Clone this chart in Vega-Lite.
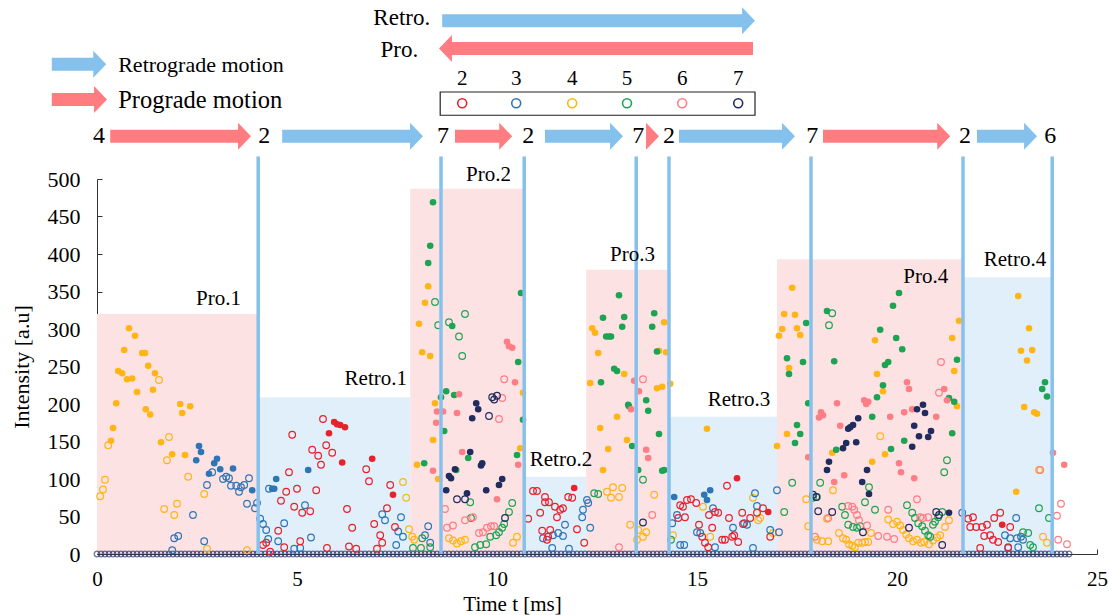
{
"$schema": "https://vega.github.io/schema/vega-lite/v6.json",
"width": 1000, "height": 375,
"autosize": {"type": "none"},
"padding": {"left": 97, "top": 179, "right": 12, "bottom": 61},
"background": "white",
"config": {"view": {"stroke": null}, "font": "Liberation Serif"},
"datasets": {
"regions": [
{"t":0,"t2":4.03,"v":320,"v2":0,"k":"p"},
{"t":4.03,"t2":7.83,"v":209,"v2":0,"k":"r"},
{"t":7.83,"t2":10.7,"v":487,"v2":0,"k":"p"},
{"t":10.7,"t2":12.23,"v":103,"v2":0,"k":"r"},
{"t":12.23,"t2":14.3,"v":379,"v2":0,"k":"p"},
{"t":14.3,"t2":17.0,"v":183,"v2":0,"k":"r"},
{"t":17.0,"t2":21.65,"v":393,"v2":0,"k":"p"},
{"t":21.65,"t2":23.88,"v":369,"v2":0,"k":"r"}],
"vlines": [
{"t":4.03,"v":0,"v2":530},{"t":8.6,"v":0,"v2":530},{"t":10.68,"v":0,"v2":530},{"t":13.48,"v":0,"v2":530},
{"t":14.3,"v":0,"v2":530},{"t":17.85,"v":0,"v2":530},{"t":21.65,"v":0,"v2":530},{"t":23.88,"v":0,"v2":530}],
"shafts": [
{"t":0.33,"t2":3.58,"v":557,"c":"p"},{"t":4.63,"t2":7.88,"v":557,"c":"b"},{"t":8.95,"t2":10.11,"v":557,"c":"p"},
{"t":11.2,"t2":12.88,"v":557,"c":"b"},{"t":14.55,"t2":17.18,"v":557,"c":"b"},{"t":18.15,"t2":21.06,"v":557,"c":"p"},
{"t":22.0,"t2":23.23,"v":557,"c":"b"},
{"t":-1.13,"t2":-0.04,"v":653,"c":"b"},{"t":-1.13,"t2":-0.02,"v":606,"c":"p"},
{"t":8.63,"t2":16.18,"v":711,"c":"b"},{"t":8.82,"t2":16.4,"v":674,"c":"p"}],
"heads": [
{"t":3.85,"v":557,"c":"p","d":"r"},{"t":8.15,"v":557,"c":"b","d":"r"},{"t":10.38,"v":557,"c":"p","d":"r"},
{"t":13.15,"v":557,"c":"b","d":"r"},{"t":14.05,"v":557,"c":"p","d":"r"},{"t":17.45,"v":557,"c":"b","d":"r"},
{"t":21.33,"v":557,"c":"p","d":"r"},{"t":23.5,"v":557,"c":"b","d":"r"},
{"t":0.23,"v":653,"c":"b","d":"r"},{"t":0.25,"v":606,"c":"p","d":"r"},
{"t":16.45,"v":711,"c":"b","d":"r"},{"t":8.55,"v":674,"c":"p","d":"l"}],
"box": [{"t":8.58,"t2":16.45,"v":616,"v2":585}],
"leg": [{"t":9.13,"v":601,"s":2},{"t":10.48,"v":601,"s":3},{"t":11.88,"v":601,"s":4},{"t":13.25,"v":601,"s":5},{"t":14.63,"v":601,"s":6},{"t":16.03,"v":601,"s":7}],
"tc": [
{"t":0.05,"v":557,"txt":"4","sz":24},{"t":4.18,"v":557,"txt":"2","sz":24},{"t":8.65,"v":557,"txt":"7","sz":24},
{"t":10.78,"v":557,"txt":"2","sz":24},{"t":13.53,"v":557,"txt":"7","sz":24},{"t":14.3,"v":557,"txt":"2","sz":24},
{"t":17.88,"v":557,"txt":"7","sz":24},{"t":21.7,"v":557,"txt":"2","sz":24},{"t":23.83,"v":557,"txt":"6","sz":24},
{"t":9.13,"v":633,"txt":"2","sz":21},{"t":10.48,"v":633,"txt":"3","sz":21},{"t":11.88,"v":633,"txt":"4","sz":21},
{"t":13.25,"v":633,"txt":"5","sz":21},{"t":14.63,"v":633,"txt":"6","sz":21},{"t":16.03,"v":633,"txt":"7","sz":21}],
"tr": [
{"t":3.6,"v":340,"txt":"Pro.1","sz":21},{"t":7.75,"v":233,"txt":"Retro.1","sz":21},{"t":10.35,"v":505,"txt":"Pro.2","sz":21},
{"t":12.38,"v":125,"txt":"Retro.2","sz":21},{"t":13.95,"v":399,"txt":"Pro.3","sz":21},{"t":16.83,"v":205,"txt":"Retro.3","sz":21},
{"t":21.28,"v":369,"txt":"Pro.4","sz":21},{"t":23.73,"v":392,"txt":"Retro.4","sz":21},
{"t":8.33,"v":715,"txt":"Retro.","sz":23},{"t":8.03,"v":672,"txt":"Pro.","sz":23}],
"tl": [
{"t":0.53,"v":652,"txt":"Retrograde motion","sz":22},{"t":0.53,"v":604,"txt":"Prograde motion","sz":24.5}],
"base": [
{"t":0,"v":0},{"t":0.1,"v":0},{"t":0.2,"v":0},{"t":0.3,"v":0},{"t":0.4,"v":0},{"t":0.5,"v":0},{"t":0.6,"v":0},{"t":0.7,"v":0},{"t":0.8,"v":0},{"t":0.9,"v":0},
{"t":1,"v":0},{"t":1.1,"v":0},{"t":1.2,"v":0},{"t":1.3,"v":0},{"t":1.4,"v":0},{"t":1.5,"v":0},{"t":1.6,"v":0},{"t":1.7,"v":0},{"t":1.8,"v":0},{"t":1.9,"v":0},
{"t":2,"v":0},{"t":2.1,"v":0},{"t":2.2,"v":0},{"t":2.3,"v":0},{"t":2.4,"v":0},{"t":2.5,"v":0},{"t":2.6,"v":0},{"t":2.7,"v":0},{"t":2.8,"v":0},{"t":2.9,"v":0},
{"t":3,"v":0},{"t":3.1,"v":0},{"t":3.2,"v":0},{"t":3.3,"v":0},{"t":3.4,"v":0},{"t":3.5,"v":0},{"t":3.6,"v":0},{"t":3.7,"v":0},{"t":3.8,"v":0},{"t":3.9,"v":0},
{"t":4,"v":0},{"t":4.1,"v":0},{"t":4.2,"v":0},{"t":4.3,"v":0},{"t":4.4,"v":0},{"t":4.5,"v":0},{"t":4.6,"v":0},{"t":4.7,"v":0},{"t":4.8,"v":0},{"t":4.9,"v":0},
{"t":5,"v":0},{"t":5.1,"v":0},{"t":5.2,"v":0},{"t":5.3,"v":0},{"t":5.4,"v":0},{"t":5.5,"v":0},{"t":5.6,"v":0},{"t":5.7,"v":0},{"t":5.8,"v":0},{"t":5.9,"v":0},
{"t":6,"v":0},{"t":6.1,"v":0},{"t":6.2,"v":0},{"t":6.3,"v":0},{"t":6.4,"v":0},{"t":6.5,"v":0},{"t":6.6,"v":0},{"t":6.7,"v":0},{"t":6.8,"v":0},{"t":6.9,"v":0},
{"t":7,"v":0},{"t":7.1,"v":0},{"t":7.2,"v":0},{"t":7.3,"v":0},{"t":7.4,"v":0},{"t":7.5,"v":0},{"t":7.6,"v":0},{"t":7.7,"v":0},{"t":7.8,"v":0},{"t":7.9,"v":0},
{"t":8,"v":0},{"t":8.1,"v":0},{"t":8.2,"v":0},{"t":8.3,"v":0},{"t":8.4,"v":0},{"t":8.5,"v":0},{"t":8.6,"v":0},{"t":8.7,"v":0},{"t":8.8,"v":0},{"t":8.9,"v":0},
{"t":9,"v":0},{"t":9.1,"v":0},{"t":9.2,"v":0},{"t":9.3,"v":0},{"t":9.4,"v":0},{"t":9.5,"v":0},{"t":9.6,"v":0},{"t":9.7,"v":0},{"t":9.8,"v":0},{"t":9.9,"v":0},
{"t":10,"v":0},{"t":10.1,"v":0},{"t":10.2,"v":0},{"t":10.3,"v":0},{"t":10.4,"v":0},{"t":10.5,"v":0},{"t":10.6,"v":0},{"t":10.7,"v":0},{"t":10.8,"v":0},{"t":10.9,"v":0},
{"t":11,"v":0},{"t":11.1,"v":0},{"t":11.2,"v":0},{"t":11.3,"v":0},{"t":11.4,"v":0},{"t":11.5,"v":0},{"t":11.6,"v":0},{"t":11.7,"v":0},{"t":11.8,"v":0},{"t":11.9,"v":0},
{"t":12,"v":0},{"t":12.1,"v":0},{"t":12.2,"v":0},{"t":12.3,"v":0},{"t":12.4,"v":0},{"t":12.5,"v":0},{"t":12.6,"v":0},{"t":12.7,"v":0},{"t":12.8,"v":0},{"t":12.9,"v":0},
{"t":13,"v":0},{"t":13.1,"v":0},{"t":13.2,"v":0},{"t":13.3,"v":0},{"t":13.4,"v":0},{"t":13.5,"v":0},{"t":13.6,"v":0},{"t":13.7,"v":0},{"t":13.8,"v":0},{"t":13.9,"v":0},
{"t":14,"v":0},{"t":14.1,"v":0},{"t":14.2,"v":0},{"t":14.3,"v":0},{"t":14.4,"v":0},{"t":14.5,"v":0},{"t":14.6,"v":0},{"t":14.7,"v":0},{"t":14.8,"v":0},{"t":14.9,"v":0},
{"t":15,"v":0},{"t":15.1,"v":0},{"t":15.2,"v":0},{"t":15.3,"v":0},{"t":15.4,"v":0},{"t":15.5,"v":0},{"t":15.6,"v":0},{"t":15.7,"v":0},{"t":15.8,"v":0},{"t":15.9,"v":0},
{"t":16,"v":0},{"t":16.1,"v":0},{"t":16.2,"v":0},{"t":16.3,"v":0},{"t":16.4,"v":0},{"t":16.5,"v":0},{"t":16.6,"v":0},{"t":16.7,"v":0},{"t":16.8,"v":0},{"t":16.9,"v":0},
{"t":17,"v":0},{"t":17.1,"v":0},{"t":17.2,"v":0},{"t":17.3,"v":0},{"t":17.4,"v":0},{"t":17.5,"v":0},{"t":17.6,"v":0},{"t":17.7,"v":0},{"t":17.8,"v":0},{"t":17.9,"v":0},
{"t":18,"v":0},{"t":18.1,"v":0},{"t":18.2,"v":0},{"t":18.3,"v":0},{"t":18.4,"v":0},{"t":18.5,"v":0},{"t":18.6,"v":0},{"t":18.7,"v":0},{"t":18.8,"v":0},{"t":18.9,"v":0},
{"t":19,"v":0},{"t":19.1,"v":0},{"t":19.2,"v":0},{"t":19.3,"v":0},{"t":19.4,"v":0},{"t":19.5,"v":0},{"t":19.6,"v":0},{"t":19.7,"v":0},{"t":19.8,"v":0},{"t":19.9,"v":0},
{"t":20,"v":0},{"t":20.1,"v":0},{"t":20.2,"v":0},{"t":20.3,"v":0},{"t":20.4,"v":0},{"t":20.5,"v":0},{"t":20.6,"v":0},{"t":20.7,"v":0},{"t":20.8,"v":0},{"t":20.9,"v":0},
{"t":21,"v":0},{"t":21.1,"v":0},{"t":21.2,"v":0},{"t":21.3,"v":0},{"t":21.4,"v":0},{"t":21.5,"v":0},{"t":21.6,"v":0},{"t":21.7,"v":0},{"t":21.8,"v":0},{"t":21.9,"v":0},
{"t":22,"v":0},{"t":22.1,"v":0},{"t":22.2,"v":0},{"t":22.3,"v":0},{"t":22.4,"v":0},{"t":22.5,"v":0},{"t":22.6,"v":0},{"t":22.7,"v":0},{"t":22.8,"v":0},{"t":22.9,"v":0},
{"t":23,"v":0},{"t":23.1,"v":0},{"t":23.2,"v":0},{"t":23.3,"v":0},{"t":23.4,"v":0},{"t":23.5,"v":0},{"t":23.6,"v":0},{"t":23.7,"v":0},{"t":23.8,"v":0},{"t":23.9,"v":0},
{"t":24,"v":0},{"t":24.1,"v":0},{"t":24.2,"v":0},{"t":24.3,"v":0}],
"pts": [
{"t":0.8,"v":301,"s":4,"f":1},{"t":0.95,"v":291,"s":4,"f":1},{"t":0.68,"v":272,"s":4,"f":1},{"t":1.13,"v":268,"s":4,"f":1},{"t":1.2,"v":268,"s":4,"f":1},
{"t":0.53,"v":244,"s":4,"f":1},{"t":0.63,"v":241,"s":4,"f":1},{"t":0.75,"v":233,"s":4,"f":1},{"t":0.88,"v":234,"s":4,"f":1},{"t":1.28,"v":251,"s":4,"f":1},
{"t":1.45,"v":241,"s":4,"f":1},{"t":1.0,"v":216,"s":4,"f":1},{"t":1.4,"v":219,"s":4,"f":1},{"t":0.48,"v":201,"s":4,"f":1},{"t":1.22,"v":193,"s":4,"f":1},
{"t":1.33,"v":186,"s":4,"f":1},{"t":0.4,"v":168,"s":4,"f":1},{"t":0.35,"v":151,"s":4,"f":1},{"t":2.08,"v":200,"s":4,"f":1},{"t":2.13,"v":188,"s":4,"f":1},
{"t":2.33,"v":197,"s":4,"f":1},{"t":1.6,"v":149,"s":4,"f":1},{"t":1.88,"v":133,"s":4,"f":1},{"t":2.2,"v":132,"s":4,"f":1},
{"t":8.45,"v":201,"s":4,"f":1},{"t":8.4,"v":152,"s":4,"f":1},{"t":8.0,"v":119,"s":4,"f":1},{"t":8.53,"v":100,"s":4,"f":1},{"t":10.58,"v":141,"s":4,"f":1},
{"t":8.28,"v":357,"s":4,"f":1},{"t":8.2,"v":335,"s":4,"f":1},{"t":8.05,"v":307,"s":4,"f":1},{"t":8.13,"v":269,"s":4,"f":1},{"t":8.33,"v":264,"s":4,"f":1},{"t":10.65,"v":215,"s":4,"f":1},
{"t":12.38,"v":301,"s":4,"f":1},{"t":12.45,"v":295,"s":4,"f":1},{"t":12.53,"v":268,"s":4,"f":1},{"t":12.33,"v":228,"s":4,"f":1},{"t":13.18,"v":240,"s":4,"f":1},
{"t":14.18,"v":309,"s":4,"f":1},{"t":14.23,"v":269,"s":4,"f":1},{"t":14.05,"v":271,"s":4,"f":1},{"t":14.0,"v":221,"s":4,"f":1},{"t":14.13,"v":223,"s":4,"f":1},
{"t":14.33,"v":227,"s":4,"f":1},{"t":13.0,"v":183,"s":4,"f":1},{"t":12.58,"v":168,"s":4,"f":1},{"t":12.78,"v":140,"s":4,"f":1},{"t":12.65,"v":112,"s":4,"f":1},{"t":13.25,"v":152,"s":4,"f":1},
{"t":15.25,"v":167,"s":4,"f":1},
{"t":17.38,"v":355,"s":4,"f":1},{"t":17.18,"v":320,"s":4,"f":1},{"t":17.45,"v":319,"s":4,"f":1},{"t":17.13,"v":300,"s":4,"f":1},{"t":17.05,"v":291,"s":4,"f":1},
{"t":17.5,"v":301,"s":4,"f":1},{"t":17.58,"v":292,"s":4,"f":1},{"t":17.3,"v":248,"s":4,"f":1},{"t":17.0,"v":144,"s":4,"f":1},{"t":17.25,"v":160,"s":4,"f":1},
{"t":21.55,"v":311,"s":4,"f":1},{"t":21.38,"v":288,"s":4,"f":1},{"t":21.43,"v":244,"s":4,"f":1},{"t":19.45,"v":285,"s":4,"f":1},{"t":19.5,"v":240,"s":4,"f":1},
{"t":19.65,"v":217,"s":4,"f":1},{"t":21.5,"v":197,"s":4,"f":1},{"t":19.7,"v":133,"s":4,"f":1},{"t":19.38,"v":123,"s":4,"f":1},{"t":18.38,"v":135,"s":4,"f":1},
{"t":23.03,"v":344,"s":4,"f":1},{"t":23.3,"v":301,"s":4,"f":1},{"t":23.1,"v":271,"s":4,"f":1},{"t":23.38,"v":272,"s":4,"f":1},{"t":23.25,"v":258,"s":4,"f":1},
{"t":23.18,"v":196,"s":4,"f":1},{"t":23.43,"v":189,"s":4,"f":1},{"t":23.5,"v":187,"s":4,"f":1},{"t":22.98,"v":83,"s":4,"f":1},
{"t":1.55,"v":232,"s":4,"f":0},{"t":0.28,"v":145,"s":4,"f":0},{"t":1.8,"v":156,"s":4,"f":0},{"t":1.75,"v":125,"s":4,"f":0},{"t":0.2,"v":99,"s":4,"f":0},
{"t":0.15,"v":86,"s":4,"f":0},{"t":0.08,"v":77,"s":4,"f":0},{"t":2.28,"v":103,"s":4,"f":0},{"t":2.68,"v":80,"s":4,"f":0},{"t":1.68,"v":60,"s":4,"f":0},
{"t":2.0,"v":67,"s":4,"f":0},{"t":1.93,"v":52,"s":4,"f":0},{"t":2.75,"v":7,"s":4,"f":0},{"t":3.75,"v":5,"s":4,"f":0},
{"t":7.65,"v":96,"s":4,"f":0},{"t":7.73,"v":75,"s":4,"f":0},{"t":7.8,"v":33,"s":4,"f":0},{"t":7.88,"v":23,"s":4,"f":0},{"t":7.93,"v":19,"s":4,"f":0},
{"t":8.8,"v":21,"s":4,"f":0},{"t":8.9,"v":18,"s":4,"f":0},{"t":9.0,"v":14,"s":4,"f":0},{"t":9.1,"v":17,"s":4,"f":0},{"t":9.2,"v":19,"s":4,"f":0},
{"t":10.5,"v":23,"s":4,"f":0},{"t":10.4,"v":15,"s":4,"f":0},
{"t":12.75,"v":83,"s":4,"f":0},{"t":12.9,"v":89,"s":4,"f":0},{"t":13.13,"v":88,"s":4,"f":0},{"t":12.85,"v":75,"s":4,"f":0},{"t":13.05,"v":76,"s":4,"f":0},
{"t":13.93,"v":79,"s":4,"f":0},{"t":13.33,"v":39,"s":4,"f":0},{"t":13.53,"v":32,"s":4,"f":0},{"t":13.73,"v":29,"s":4,"f":0},{"t":13.65,"v":23,"s":4,"f":0},
{"t":13.5,"v":19,"s":4,"f":0},{"t":14.4,"v":25,"s":4,"f":0},
{"t":15.15,"v":63,"s":4,"f":0},{"t":15.33,"v":23,"s":4,"f":0},{"t":16.4,"v":75,"s":4,"f":0},{"t":16.53,"v":45,"s":4,"f":0},{"t":16.58,"v":48,"s":4,"f":0},
{"t":16.9,"v":28,"s":4,"f":0},{"t":17.73,"v":73,"s":4,"f":0},
{"t":19.58,"v":157,"s":4,"f":0},{"t":18.4,"v":85,"s":4,"f":0},{"t":18.25,"v":47,"s":4,"f":0},
{"t":18.55,"v":28,"s":4,"f":0},{"t":18.65,"v":21,"s":4,"f":0},{"t":18.73,"v":19,"s":4,"f":0},{"t":18.8,"v":13,"s":4,"f":0},{"t":18.88,"v":11,"s":4,"f":0},
{"t":18.95,"v":9,"s":4,"f":0},{"t":19.03,"v":15,"s":4,"f":0},{"t":19.13,"v":15,"s":4,"f":0},{"t":19.2,"v":16,"s":4,"f":0},{"t":19.28,"v":16,"s":4,"f":0},{"t":19.35,"v":28,"s":4,"f":0},
{"t":19.78,"v":46,"s":4,"f":0},{"t":19.9,"v":40,"s":4,"f":0},{"t":20.0,"v":43,"s":4,"f":0},{"t":20.08,"v":38,"s":4,"f":0},{"t":20.15,"v":32,"s":4,"f":0},
{"t":20.23,"v":26,"s":4,"f":0},{"t":20.3,"v":21,"s":4,"f":0},{"t":20.4,"v":17,"s":4,"f":0},{"t":20.5,"v":19,"s":4,"f":0},{"t":20.6,"v":15,"s":4,"f":0},
{"t":20.68,"v":16,"s":4,"f":0},{"t":20.8,"v":13,"s":4,"f":0},{"t":20.9,"v":18,"s":4,"f":0},{"t":21.0,"v":22,"s":4,"f":0},{"t":21.08,"v":25,"s":4,"f":0},
{"t":21.2,"v":36,"s":4,"f":0},{"t":21.3,"v":45,"s":4,"f":0},{"t":17.78,"v":37,"s":4,"f":0},{"t":18.0,"v":19,"s":4,"f":0},{"t":18.13,"v":17,"s":4,"f":0},{"t":18.28,"v":17,"s":4,"f":0},
{"t":23.55,"v":112,"s":4,"f":0},{"t":23.65,"v":23,"s":4,"f":0},{"t":23.75,"v":15,"s":4,"f":0},
{"t":2.55,"v":144,"s":3,"f":1},{"t":2.6,"v":136,"s":3,"f":1},{"t":2.48,"v":125,"s":3,"f":1},{"t":2.93,"v":121,"s":3,"f":1},{"t":3.0,"v":127,"s":3,"f":1},
{"t":3.08,"v":113,"s":3,"f":1},{"t":3.4,"v":114,"s":3,"f":1},{"t":3.88,"v":85,"s":3,"f":1},{"t":2.8,"v":107,"s":3,"f":1},{"t":4.48,"v":100,"s":3,"f":1},
{"t":4.38,"v":87,"s":3,"f":1},{"t":4.43,"v":87,"s":3,"f":1},{"t":5.28,"v":112,"s":3,"f":1},{"t":14.43,"v":76,"s":3,"f":1},{"t":15.33,"v":85,"s":3,"f":1},
{"t":15.18,"v":79,"s":3,"f":1},{"t":15.25,"v":72,"s":3,"f":1},
{"t":2.88,"v":109,"s":3,"f":0},{"t":3.15,"v":100,"s":3,"f":0},{"t":3.23,"v":103,"s":3,"f":0},{"t":3.3,"v":101,"s":3,"f":0},{"t":3.35,"v":91,"s":3,"f":0},
{"t":3.48,"v":91,"s":3,"f":0},{"t":3.55,"v":83,"s":3,"f":0},{"t":3.6,"v":89,"s":3,"f":0},{"t":3.68,"v":92,"s":3,"f":0},{"t":3.8,"v":101,"s":3,"f":0},
{"t":2.75,"v":92,"s":3,"f":0},{"t":3.75,"v":67,"s":3,"f":0},{"t":3.95,"v":61,"s":3,"f":0},{"t":4.0,"v":68,"s":3,"f":0},{"t":2.4,"v":52,"s":3,"f":0},
{"t":1.93,"v":21,"s":3,"f":0},{"t":2.03,"v":24,"s":3,"f":0},{"t":1.88,"v":5,"s":3,"f":0},{"t":2.68,"v":17,"s":3,"f":0},
{"t":4.3,"v":87,"s":3,"f":0},{"t":4.08,"v":47,"s":3,"f":0},{"t":4.15,"v":40,"s":3,"f":0},{"t":4.23,"v":32,"s":3,"f":0},{"t":4.28,"v":20,"s":3,"f":0},
{"t":4.53,"v":17,"s":3,"f":0},{"t":4.68,"v":41,"s":3,"f":0},{"t":5.2,"v":65,"s":3,"f":0},{"t":5.35,"v":22,"s":3,"f":0},{"t":4.93,"v":7,"s":3,"f":0},{"t":5.08,"v":8,"s":3,"f":0},
{"t":7.13,"v":53,"s":3,"f":0},{"t":7.2,"v":45,"s":3,"f":0},{"t":7.6,"v":49,"s":3,"f":0},{"t":7.53,"v":30,"s":3,"f":0},{"t":7.65,"v":23,"s":3,"f":0},
{"t":7.48,"v":12,"s":3,"f":0},{"t":8.28,"v":37,"s":3,"f":0},{"t":8.2,"v":25,"s":3,"f":0},{"t":8.33,"v":15,"s":3,"f":0},
{"t":12.15,"v":59,"s":3,"f":0},{"t":12.13,"v":49,"s":3,"f":0},{"t":12.25,"v":72,"s":3,"f":0},{"t":12.28,"v":68,"s":3,"f":0},{"t":12.33,"v":35,"s":3,"f":0},
{"t":11.7,"v":39,"s":3,"f":0},{"t":11.53,"v":28,"s":3,"f":0},{"t":11.65,"v":24,"s":3,"f":0},{"t":11.4,"v":25,"s":3,"f":0},{"t":11.15,"v":21,"s":3,"f":0},
{"t":11.8,"v":7,"s":3,"f":0},{"t":11.38,"v":8,"s":3,"f":0},
{"t":14.38,"v":41,"s":3,"f":0},{"t":14.5,"v":52,"s":3,"f":0},{"t":14.58,"v":12,"s":3,"f":0},{"t":14.68,"v":12,"s":3,"f":0},{"t":15.0,"v":29,"s":3,"f":0},
{"t":15.08,"v":28,"s":3,"f":0},{"t":15.4,"v":61,"s":3,"f":0},{"t":15.45,"v":9,"s":3,"f":0},{"t":15.9,"v":35,"s":3,"f":0},{"t":16.25,"v":39,"s":3,"f":0},
{"t":16.18,"v":41,"s":3,"f":0},{"t":16.4,"v":8,"s":3,"f":0},{"t":16.45,"v":81,"s":3,"f":0},{"t":16.5,"v":64,"s":3,"f":0},{"t":16.83,"v":32,"s":3,"f":0},
{"t":17.0,"v":85,"s":3,"f":0},{"t":17.05,"v":29,"s":3,"f":0},
{"t":22.98,"v":48,"s":3,"f":0},{"t":22.7,"v":25,"s":3,"f":0},{"t":22.83,"v":21,"s":3,"f":0},{"t":23.0,"v":21,"s":3,"f":0},{"t":23.1,"v":23,"s":3,"f":0},
{"t":23.15,"v":19,"s":3,"f":0},{"t":22.78,"v":8,"s":3,"f":0},{"t":23.03,"v":9,"s":3,"f":0},{"t":21.63,"v":55,"s":3,"f":0},
{"t":5.93,"v":176,"s":2,"f":1},{"t":6.0,"v":173,"s":2,"f":1},{"t":6.08,"v":172,"s":2,"f":1},{"t":6.2,"v":169,"s":2,"f":1},{"t":5.8,"v":161,"s":2,"f":1},
{"t":6.13,"v":122,"s":2,"f":1},{"t":6.88,"v":127,"s":2,"f":1},{"t":7.4,"v":79,"s":2,"f":1},{"t":11.93,"v":88,"s":2,"f":1},{"t":16.0,"v":101,"s":2,"f":1},
{"t":16.78,"v":56,"s":2,"f":1},{"t":22.63,"v":39,"s":2,"f":1},
{"t":4.88,"v":159,"s":2,"f":0},{"t":4.8,"v":109,"s":2,"f":0},{"t":4.73,"v":83,"s":2,"f":0},{"t":4.6,"v":71,"s":2,"f":0},{"t":5.0,"v":87,"s":2,"f":0},
{"t":4.93,"v":63,"s":2,"f":0},{"t":4.53,"v":31,"s":2,"f":0},{"t":4.68,"v":9,"s":2,"f":0},{"t":4.23,"v":15,"s":2,"f":0},{"t":4.15,"v":12,"s":2,"f":0},
{"t":5.65,"v":180,"s":2,"f":0},{"t":5.38,"v":139,"s":2,"f":0},{"t":5.53,"v":131,"s":2,"f":0},{"t":5.73,"v":145,"s":2,"f":0},{"t":5.88,"v":135,"s":2,"f":0},
{"t":5.6,"v":119,"s":2,"f":0},{"t":5.13,"v":55,"s":2,"f":0},{"t":5.33,"v":57,"s":2,"f":0},{"t":5.48,"v":85,"s":2,"f":0},{"t":5.08,"v":17,"s":2,"f":0},
{"t":6.25,"v":60,"s":2,"f":0},{"t":6.38,"v":35,"s":2,"f":0},{"t":6.73,"v":113,"s":2,"f":0},{"t":6.8,"v":97,"s":2,"f":0},{"t":6.93,"v":40,"s":2,"f":0},
{"t":7.08,"v":25,"s":2,"f":0},{"t":7.13,"v":15,"s":2,"f":0},{"t":7.33,"v":92,"s":2,"f":0},{"t":7.25,"v":61,"s":2,"f":0},{"t":7.45,"v":36,"s":2,"f":0},
{"t":6.3,"v":10,"s":2,"f":0},{"t":6.48,"v":7,"s":2,"f":0},{"t":7.0,"v":7,"s":2,"f":0},{"t":5.75,"v":8,"s":2,"f":0},{"t":4.33,"v":3,"s":2,"f":0},
{"t":10.9,"v":84,"s":2,"f":0},{"t":11.0,"v":84,"s":2,"f":0},{"t":11.2,"v":69,"s":2,"f":0},{"t":11.08,"v":55,"s":2,"f":0},{"t":10.78,"v":47,"s":2,"f":0},
{"t":11.13,"v":31,"s":2,"f":0},{"t":11.25,"v":19,"s":2,"f":0},{"t":11.2,"v":76,"s":2,"f":0},{"t":11.3,"v":69,"s":2,"f":0},{"t":11.45,"v":63,"s":2,"f":0},
{"t":11.58,"v":59,"s":2,"f":0},{"t":11.65,"v":61,"s":2,"f":0},{"t":11.5,"v":49,"s":2,"f":0},{"t":11.33,"v":32,"s":2,"f":0},{"t":12.0,"v":33,"s":2,"f":0},
{"t":11.28,"v":23,"s":2,"f":0},{"t":11.78,"v":76,"s":2,"f":0},{"t":11.88,"v":75,"s":2,"f":0},{"t":12.18,"v":15,"s":2,"f":0},
{"t":14.75,"v":72,"s":2,"f":0},{"t":14.85,"v":73,"s":2,"f":0},{"t":14.58,"v":65,"s":2,"f":0},{"t":14.65,"v":63,"s":2,"f":0},{"t":14.53,"v":48,"s":2,"f":0},
{"t":14.7,"v":49,"s":2,"f":0},{"t":14.98,"v":68,"s":2,"f":0},{"t":15.75,"v":91,"s":2,"f":0},{"t":15.45,"v":56,"s":2,"f":0},{"t":15.53,"v":55,"s":2,"f":0},
{"t":15.05,"v":39,"s":2,"f":0},{"t":15.38,"v":35,"s":2,"f":0},{"t":15.13,"v":23,"s":2,"f":0},{"t":15.2,"v":15,"s":2,"f":0},{"t":15.28,"v":9,"s":2,"f":0},
{"t":15.63,"v":19,"s":2,"f":0},{"t":15.7,"v":19,"s":2,"f":0},{"t":15.88,"v":23,"s":2,"f":0},{"t":15.93,"v":25,"s":2,"f":0},{"t":16.13,"v":55,"s":2,"f":0},
{"t":16.33,"v":48,"s":2,"f":0},{"t":16.15,"v":40,"s":2,"f":0},{"t":16.03,"v":16,"s":2,"f":0},{"t":16.5,"v":55,"s":2,"f":0},{"t":16.65,"v":61,"s":2,"f":0},
{"t":16.83,"v":23,"s":2,"f":0},{"t":15.8,"v":48,"s":2,"f":0},{"t":15.3,"v":52,"s":2,"f":0},
{"t":21.78,"v":47,"s":2,"f":0},{"t":21.9,"v":49,"s":2,"f":0},{"t":21.83,"v":36,"s":2,"f":0},{"t":21.98,"v":36,"s":2,"f":0},{"t":22.13,"v":36,"s":2,"f":0},
{"t":22.25,"v":39,"s":2,"f":0},{"t":22.43,"v":48,"s":2,"f":0},{"t":22.58,"v":55,"s":2,"f":0},{"t":22.83,"v":36,"s":2,"f":0},{"t":22.18,"v":24,"s":2,"f":0},
{"t":22.33,"v":25,"s":2,"f":0},{"t":22.4,"v":19,"s":2,"f":0},{"t":22.53,"v":16,"s":2,"f":0},{"t":22.08,"v":8,"s":2,"f":0},{"t":22.78,"v":9,"s":2,"f":0},
{"t":8.4,"v":469,"s":5,"f":1},{"t":8.33,"v":411,"s":5,"f":1},{"t":8.28,"v":388,"s":5,"f":1},{"t":8.88,"v":304,"s":5,"f":1},{"t":10.6,"v":348,"s":5,"f":1},
{"t":10.53,"v":256,"s":5,"f":1},{"t":8.73,"v":217,"s":5,"f":1},{"t":8.93,"v":212,"s":5,"f":1},{"t":8.6,"v":209,"s":5,"f":1},{"t":10.65,"v":179,"s":5,"f":1},
{"t":8.18,"v":121,"s":5,"f":1},{"t":8.68,"v":164,"s":5,"f":1},{"t":9.28,"v":128,"s":5,"f":1},{"t":8.98,"v":112,"s":5,"f":1},{"t":10.5,"v":132,"s":5,"f":1},
{"t":13.05,"v":345,"s":5,"f":1},{"t":12.65,"v":315,"s":5,"f":1},{"t":13.18,"v":316,"s":5,"f":1},{"t":13.13,"v":303,"s":5,"f":1},{"t":12.73,"v":290,"s":5,"f":1},
{"t":12.85,"v":290,"s":5,"f":1},{"t":12.8,"v":290,"s":5,"f":1},{"t":13.93,"v":321,"s":5,"f":1},{"t":13.88,"v":303,"s":5,"f":1},{"t":14.0,"v":270,"s":5,"f":1},
{"t":12.93,"v":247,"s":5,"f":1},{"t":13.0,"v":244,"s":5,"f":1},{"t":12.6,"v":229,"s":5,"f":1},{"t":13.28,"v":199,"s":5,"f":1},{"t":13.73,"v":205,"s":5,"f":1},
{"t":13.78,"v":191,"s":5,"f":1},{"t":14.05,"v":160,"s":5,"f":1},{"t":13.53,"v":112,"s":5,"f":1},{"t":14.13,"v":111,"s":5,"f":1},{"t":14.18,"v":112,"s":5,"f":1},
{"t":13.38,"v":144,"s":5,"f":1},{"t":13.3,"v":197,"s":5,"f":1},
{"t":17.73,"v":308,"s":5,"f":1},{"t":17.25,"v":261,"s":5,"f":1},{"t":17.65,"v":256,"s":5,"f":1},{"t":17.3,"v":240,"s":5,"f":1},{"t":18.25,"v":324,"s":5,"f":1},
{"t":18.43,"v":257,"s":5,"f":1},{"t":17.78,"v":201,"s":5,"f":1},{"t":17.5,"v":172,"s":5,"f":1},{"t":17.58,"v":160,"s":5,"f":1},{"t":17.45,"v":148,"s":5,"f":1},
{"t":20.05,"v":348,"s":5,"f":1},{"t":19.9,"v":331,"s":5,"f":1},{"t":19.58,"v":299,"s":5,"f":1},{"t":19.98,"v":288,"s":5,"f":1},{"t":20.13,"v":273,"s":5,"f":1},
{"t":19.78,"v":256,"s":5,"f":1},{"t":19.7,"v":252,"s":5,"f":1},{"t":21.5,"v":259,"s":5,"f":1},{"t":19.65,"v":225,"s":5,"f":1},{"t":19.5,"v":209,"s":5,"f":1},
{"t":21.3,"v":208,"s":5,"f":1},{"t":21.43,"v":203,"s":5,"f":1},{"t":19.38,"v":183,"s":5,"f":1},{"t":20.18,"v":151,"s":5,"f":1},{"t":19.85,"v":140,"s":5,"f":1},
{"t":21.38,"v":161,"s":5,"f":1},{"t":18.48,"v":139,"s":5,"f":1},
{"t":23.7,"v":229,"s":5,"f":1},{"t":23.63,"v":220,"s":5,"f":1},{"t":23.75,"v":210,"s":5,"f":1},
{"t":8.45,"v":336,"s":5,"f":0},{"t":9.2,"v":320,"s":5,"f":0},{"t":8.53,"v":305,"s":5,"f":0},{"t":8.8,"v":309,"s":5,"f":0},{"t":9.05,"v":290,"s":5,"f":0},
{"t":9.13,"v":264,"s":5,"f":0},{"t":9.35,"v":48,"s":5,"f":0},{"t":9.33,"v":69,"s":5,"f":0},{"t":9.45,"v":9,"s":5,"f":0},{"t":9.58,"v":12,"s":5,"f":0},
{"t":9.73,"v":13,"s":5,"f":0},{"t":9.83,"v":23,"s":5,"f":0},{"t":9.98,"v":25,"s":5,"f":0},{"t":10.05,"v":29,"s":5,"f":0},{"t":10.13,"v":35,"s":5,"f":0},
{"t":10.18,"v":40,"s":5,"f":0},{"t":10.3,"v":56,"s":5,"f":0},{"t":10.38,"v":68,"s":5,"f":0},{"t":8.13,"v":21,"s":5,"f":0},{"t":7.9,"v":8,"s":5,"f":0},
{"t":8.1,"v":8,"s":5,"f":0},{"t":8.33,"v":9,"s":5,"f":0},
{"t":12.43,"v":81,"s":5,"f":0},{"t":12.53,"v":80,"s":5,"f":0},{"t":13.65,"v":99,"s":5,"f":0},{"t":14.35,"v":19,"s":5,"f":0},
{"t":18.38,"v":321,"s":5,"f":0},{"t":18.3,"v":305,"s":5,"f":0},{"t":17.38,"v":95,"s":5,"f":0},{"t":17.18,"v":56,"s":5,"f":0},{"t":21.25,"v":125,"s":5,"f":0},
{"t":21.18,"v":109,"s":5,"f":0},{"t":19.3,"v":89,"s":5,"f":0},{"t":19.2,"v":69,"s":5,"f":0},{"t":18.63,"v":63,"s":5,"f":0},{"t":18.7,"v":52,"s":5,"f":0},
{"t":18.78,"v":39,"s":5,"f":0},{"t":18.9,"v":36,"s":5,"f":0},{"t":19.0,"v":35,"s":5,"f":0},{"t":19.08,"v":37,"s":5,"f":0},{"t":19.45,"v":59,"s":5,"f":0},
{"t":20.25,"v":65,"s":5,"f":0},{"t":20.38,"v":55,"s":5,"f":0},{"t":20.45,"v":48,"s":5,"f":0},{"t":20.53,"v":41,"s":5,"f":0},{"t":20.63,"v":37,"s":5,"f":0},
{"t":20.7,"v":31,"s":5,"f":0},{"t":20.78,"v":25,"s":5,"f":0},{"t":20.83,"v":23,"s":5,"f":0},{"t":20.9,"v":39,"s":5,"f":0},{"t":20.95,"v":43,"s":5,"f":0},
{"t":21.13,"v":56,"s":5,"f":0},{"t":21.03,"v":49,"s":5,"f":0},{"t":18.08,"v":95,"s":5,"f":0},{"t":18.0,"v":76,"s":5,"f":0},{"t":17.9,"v":75,"s":5,"f":0},
{"t":23.15,"v":29,"s":5,"f":0},{"t":23.28,"v":28,"s":5,"f":0},{"t":23.33,"v":12,"s":5,"f":0},{"t":23.4,"v":9,"s":5,"f":0},{"t":23.55,"v":61,"s":5,"f":0},{"t":23.8,"v":48,"s":5,"f":0},
{"t":8.5,"v":190,"s":6,"f":1},{"t":8.65,"v":190,"s":6,"f":1},{"t":9.0,"v":188,"s":6,"f":1},{"t":8.48,"v":175,"s":6,"f":1},{"t":9.13,"v":136,"s":6,"f":1},
{"t":8.4,"v":111,"s":6,"f":1},{"t":10.0,"v":73,"s":6,"f":1},{"t":10.53,"v":119,"s":6,"f":1},{"t":10.25,"v":283,"s":6,"f":1},{"t":10.38,"v":275,"s":6,"f":1},
{"t":10.3,"v":277,"s":6,"f":1},{"t":10.45,"v":229,"s":6,"f":1},{"t":9.05,"v":213,"s":6,"f":1},
{"t":13.55,"v":217,"s":6,"f":1},{"t":13.43,"v":231,"s":6,"f":1},{"t":13.35,"v":193,"s":6,"f":1},{"t":13.73,"v":139,"s":6,"f":1},{"t":13.78,"v":128,"s":6,"f":1},
{"t":18.1,"v":189,"s":6,"f":1},{"t":18.15,"v":185,"s":6,"f":1},{"t":18.05,"v":182,"s":6,"f":1},{"t":18.5,"v":201,"s":6,"f":1},{"t":17.78,"v":129,"s":6,"f":1},
{"t":20.25,"v":229,"s":6,"f":1},{"t":20.3,"v":220,"s":6,"f":1},{"t":21.18,"v":220,"s":6,"f":1},{"t":21.25,"v":205,"s":6,"f":1},{"t":19.18,"v":205,"s":6,"f":1},
{"t":19.28,"v":203,"s":6,"f":1},{"t":19.23,"v":200,"s":6,"f":1},{"t":19.83,"v":183,"s":6,"f":1},{"t":20.18,"v":189,"s":6,"f":1},{"t":20.38,"v":193,"s":6,"f":1},
{"t":20.98,"v":183,"s":6,"f":1},{"t":18.58,"v":171,"s":6,"f":1},{"t":20.05,"v":121,"s":6,"f":1},{"t":20.1,"v":109,"s":6,"f":1},{"t":20.43,"v":101,"s":6,"f":1},
{"t":18.43,"v":96,"s":6,"f":1},{"t":18.68,"v":105,"s":6,"f":1},{"t":23.9,"v":135,"s":6,"f":1},{"t":24.18,"v":119,"s":6,"f":1},
{"t":10.18,"v":233,"s":6,"f":0},{"t":10.13,"v":208,"s":6,"f":0},{"t":13.65,"v":233,"s":6,"f":0},{"t":21.1,"v":256,"s":6,"f":0},{"t":21.05,"v":215,"s":6,"f":0},
{"t":8.7,"v":60,"s":6,"f":0},{"t":9.2,"v":45,"s":6,"f":0},{"t":9.4,"v":49,"s":6,"f":0},{"t":8.75,"v":35,"s":6,"f":0},{"t":8.9,"v":38,"s":6,"f":0},
{"t":9.55,"v":28,"s":6,"f":0},{"t":9.65,"v":29,"s":6,"f":0},{"t":9.75,"v":35,"s":6,"f":0},{"t":9.85,"v":37,"s":6,"f":0},{"t":9.93,"v":37,"s":6,"f":0},
{"t":10.05,"v":180,"s":6,"f":0},{"t":13.88,"v":52,"s":6,"f":0},{"t":13.05,"v":9,"s":6,"f":0},
{"t":20.5,"v":73,"s":6,"f":0},{"t":18.78,"v":64,"s":6,"f":0},{"t":18.88,"v":63,"s":6,"f":0},{"t":18.93,"v":59,"s":6,"f":0},{"t":19.0,"v":52,"s":6,"f":0},
{"t":19.05,"v":45,"s":6,"f":0},{"t":19.25,"v":38,"s":6,"f":0},{"t":19.78,"v":59,"s":6,"f":0},{"t":19.75,"v":23,"s":6,"f":0},{"t":20.58,"v":49,"s":6,"f":0},
{"t":20.65,"v":48,"s":6,"f":0},{"t":20.78,"v":49,"s":6,"f":0},{"t":19.93,"v":20,"s":6,"f":0},{"t":18.28,"v":48,"s":6,"f":0},{"t":19.53,"v":24,"s":6,"f":0},{"t":17.95,"v":23,"s":6,"f":0},
{"t":24.1,"v":67,"s":6,"f":0},{"t":24.0,"v":51,"s":6,"f":0},{"t":24.03,"v":19,"s":6,"f":0},{"t":24.25,"v":13,"s":6,"f":0},{"t":23.58,"v":112,"s":6,"f":0},
{"t":9.48,"v":201,"s":7,"f":1},{"t":9.53,"v":193,"s":7,"f":1},{"t":9.38,"v":181,"s":7,"f":1},{"t":9.33,"v":136,"s":7,"f":1},{"t":9.63,"v":121,"s":7,"f":1},
{"t":9.6,"v":118,"s":7,"f":1},{"t":8.95,"v":113,"s":7,"f":1},{"t":8.8,"v":104,"s":7,"f":1},{"t":8.85,"v":101,"s":7,"f":1},{"t":8.73,"v":85,"s":7,"f":1},
{"t":9.25,"v":81,"s":7,"f":1},{"t":9.73,"v":85,"s":7,"f":1},{"t":10.05,"v":92,"s":7,"f":1},{"t":10.13,"v":100,"s":7,"f":1},
{"t":20.5,"v":193,"s":7,"f":1},{"t":20.65,"v":199,"s":7,"f":1},{"t":20.7,"v":188,"s":7,"f":1},{"t":19.03,"v":181,"s":7,"f":1},{"t":20.43,"v":171,"s":7,"f":1},
{"t":20.55,"v":157,"s":7,"f":1},{"t":20.78,"v":156,"s":7,"f":1},{"t":20.85,"v":164,"s":7,"f":1},{"t":20.38,"v":143,"s":7,"f":1},{"t":18.9,"v":172,"s":7,"f":1},
{"t":18.83,"v":169,"s":7,"f":1},{"t":18.78,"v":167,"s":7,"f":1},{"t":18.98,"v":149,"s":7,"f":1},{"t":18.73,"v":148,"s":7,"f":1},{"t":18.65,"v":141,"s":7,"f":1},
{"t":18.3,"v":123,"s":7,"f":1},{"t":18.25,"v":112,"s":7,"f":1},{"t":19.25,"v":112,"s":7,"f":1},{"t":19.13,"v":96,"s":7,"f":1},{"t":19.3,"v":80,"s":7,"f":1},{"t":21.3,"v":55,"s":7,"f":1},
{"t":9.8,"v":184,"s":7,"f":0},{"t":9.0,"v":73,"s":7,"f":0},{"t":9.2,"v":73,"s":7,"f":0},{"t":10.2,"v":48,"s":7,"f":0},{"t":9.88,"v":209,"s":7,"f":0},
{"t":10.0,"v":211,"s":7,"f":0},{"t":9.93,"v":206,"s":7,"f":0},{"t":13.65,"v":42,"s":7,"f":0},{"t":17.98,"v":76,"s":7,"f":0},{"t":18.38,"v":56,"s":7,"f":0},
{"t":19.15,"v":29,"s":7,"f":0},{"t":20.98,"v":56,"s":7,"f":0},{"t":21.05,"v":52,"s":7,"f":0},{"t":20.3,"v":35,"s":7,"f":0},{"t":21.13,"v":12,"s":7,"f":0},
{"t":18.03,"v":57,"s":7,"f":0},{"t":17.9,"v":79,"s":7,"f":0}]
},
"encoding": {
"x": {"field": "t", "type": "quantitative",
 "scale": {"domain": [0, 25], "nice": false, "zero": false},
 "axis": {"values": [0,5,10,15,20,25], "title": "Time t [ms]", "grid": false,
  "labelFont": "Liberation Serif", "labelFontSize": 21, "labelColor": "black", "labelPadding": 19, "labelFlush": false,
  "titleFont": "Liberation Serif", "titleFontSize": 21, "titleFontWeight": "normal", "titleColor": "black", "titlePadding": 4, "titleX": 415,
  "tickSize": -5, "tickColor": "#333", "domainColor": "#333"}},
"y": {"field": "v", "type": "quantitative",
 "scale": {"domain": [0, 500], "nice": false},
 "axis": {"values": [0,50,100,150,200,250,300,350,400,450,500], "title": "Intensity [a.u]", "grid": false,
  "labelFont": "Liberation Serif", "labelFontSize": 22, "labelColor": "black", "labelPadding": 22,
  "titleFont": "Liberation Serif", "titleFontSize": 22, "titleFontWeight": "normal", "titleColor": "black", "titlePadding": 14,
  "tickSize": -5, "tickColor": "#333", "domainColor": "#333"}}
},
"layer": [
{"data": {"name": "regions"}, "mark": {"type": "rect"},
 "encoding": {"x2": {"field": "t2"}, "y2": {"field": "v2"},
  "fill": {"condition": {"test": "datum.k==='p'", "value": "#FDE2E4"}, "value": "#E1EFFA"}}},
{"data": {"name": "base"}, "mark": {"type": "point", "shape": "circle", "filled": false, "size": 32, "strokeWidth": 1.3, "color": "#283470"}},
{"data": {"name": "pts"}, "transform": [{"filter": "datum.f==0"}],
 "mark": {"type": "point", "shape": "circle", "filled": false, "size": 44, "strokeWidth": 1.2, "opacity": 1},
 "encoding": {"color": {"field": "s", "type": "nominal", "legend": null,
  "scale": {"domain": [2,3,4,5,6,7], "range": ["#E8212B","#2E75B6","#FFB515","#1DA453","#FF7D84","#202B5E"]}}}},
{"data": {"name": "pts"}, "transform": [{"filter": "datum.f==1"}],
 "mark": {"type": "point", "shape": "circle", "filled": true, "size": 44, "opacity": 1},
 "encoding": {"color": {"field": "s", "type": "nominal", "legend": null}}},
{"data": {"name": "vlines"}, "mark": {"type": "rule", "color": "#86C0EC", "strokeWidth": 3.5},
 "encoding": {"y2": {"field": "v2"}}},
{"data": {"name": "shafts"}, "mark": {"type": "rule", "strokeWidth": 13, "strokeCap": "butt"},
 "encoding": {"x2": {"field": "t2"},
  "stroke": {"condition": {"test": "datum.c==='b'", "value": "#84C1ED"}, "value": "#FF7C80"}}},
{"data": {"name": "heads"}, "mark": {"type": "point", "filled": true, "size": 729, "opacity": 1, "strokeWidth": 0},
 "encoding": {"shape": {"condition": {"test": "datum.d==='l'", "value": "M0.96,-1L0,0L0.96,1Z"}, "value": "M-0.96,-1L0,0L-0.96,1Z"},
  "fill": {"condition": {"test": "datum.c==='b'", "value": "#84C1ED"}, "value": "#FF7C80"}}},
{"data": {"name": "box"}, "mark": {"type": "rect", "fill": "white", "fillOpacity": 0, "stroke": "#222", "strokeWidth": 1.2},
 "encoding": {"x2": {"field": "t2"}, "y2": {"field": "v2"}}},
{"data": {"name": "leg"}, "mark": {"type": "point", "shape": "circle", "filled": false, "size": 80, "strokeWidth": 1.6, "opacity": 1},
 "encoding": {"color": {"field": "s", "type": "nominal", "legend": null}}},
{"data": {"name": "tc"}, "mark": {"type": "text", "align": "center", "baseline": "middle", "font": "Liberation Serif", "color": "black"},
 "encoding": {"text": {"field": "txt"}, "size": {"field": "sz", "type": "quantitative", "scale": null}}},
{"data": {"name": "tr"}, "mark": {"type": "text", "align": "right", "baseline": "middle", "font": "Liberation Serif", "color": "black"},
 "encoding": {"text": {"field": "txt"}, "size": {"field": "sz", "type": "quantitative", "scale": null}}},
{"data": {"name": "tl"}, "mark": {"type": "text", "align": "left", "baseline": "middle", "font": "Liberation Serif", "color": "black"},
 "encoding": {"text": {"field": "txt"}, "size": {"field": "sz", "type": "quantitative", "scale": null}}}
]
}
